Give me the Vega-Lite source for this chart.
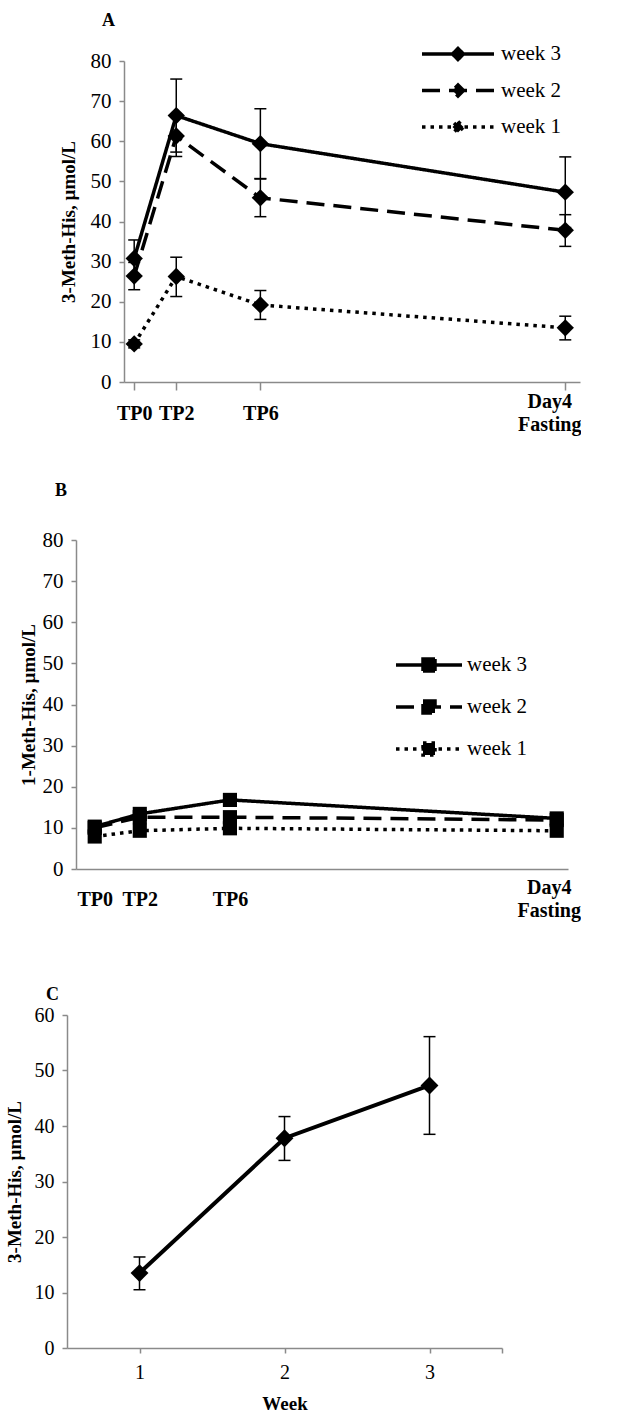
{
  "$schema": "https://vega.github.io/schema/vega-lite/v6.json",
  "padding": {"left": 5, "top": 12, "right": 0, "bottom": 0},
  "background": "white",
  "config": {
    "font": "Liberation Serif",
    "view": {"stroke": null},
    "axis": {
      "grid": false,
      "domainColor": "#8a8a8a",
      "tickColor": "#8a8a8a",
      "domainWidth": 1.5,
      "tickWidth": 1.5,
      "labelColor": "black",
      "titleColor": "black",
      "labelFont": "Liberation Serif",
      "titleFont": "Liberation Serif",
      "labelFontSize": 20,
      "titleFontSize": 19,
      "titleFontWeight": "bold",
      "labelFontWeight": "normal"
    },
    "legend": {"labelFont": "Liberation Serif", "labelFontSize": 21, "labelColor": "black"},
    "title": {"font": "Liberation Serif", "fontSize": 18, "fontWeight": "bold", "anchor": "start", "frame": "group", "color": "black"}
  },
  "datasets": {
    "a": [
      {"t": 0, "week": "week 3", "v": 30.8, "lo": 26.2, "hi": 35.4},
      {"t": 2, "week": "week 3", "v": 66.4, "lo": 57.3, "hi": 75.5},
      {"t": 6, "week": "week 3", "v": 59.4, "lo": 50.7, "hi": 68.1},
      {"t": 20.5, "week": "week 3", "v": 47.3, "lo": 38.5, "hi": 56.1},
      {"t": 0, "week": "week 2", "v": 26.4, "lo": 23.0, "hi": 29.8},
      {"t": 2, "week": "week 2", "v": 61.3, "lo": 56.2, "hi": 66.4},
      {"t": 6, "week": "week 2", "v": 45.9, "lo": 41.2, "hi": 50.6},
      {"t": 20.5, "week": "week 2", "v": 37.8, "lo": 33.8, "hi": 41.7},
      {"t": 0, "week": "week 1", "v": 9.5, "lo": 8.5, "hi": 10.5},
      {"t": 2, "week": "week 1", "v": 26.3, "lo": 21.3, "hi": 31.1},
      {"t": 6, "week": "week 1", "v": 19.2, "lo": 15.6, "hi": 22.8},
      {"t": 20.5, "week": "week 1", "v": 13.5, "lo": 10.5, "hi": 16.4}
    ],
    "b": [
      {"t": 0, "week": "week 3", "v": 10.3},
      {"t": 2, "week": "week 3", "v": 13.4},
      {"t": 6, "week": "week 3", "v": 16.8},
      {"t": 20.5, "week": "week 3", "v": 12.3},
      {"t": 0, "week": "week 2", "v": 10.0},
      {"t": 2, "week": "week 2", "v": 12.6},
      {"t": 6, "week": "week 2", "v": 12.6},
      {"t": 20.5, "week": "week 2", "v": 11.9},
      {"t": 0, "week": "week 1", "v": 7.9},
      {"t": 2, "week": "week 1", "v": 9.3},
      {"t": 6, "week": "week 1", "v": 9.9},
      {"t": 20.5, "week": "week 1", "v": 9.3}
    ],
    "c": [
      {"wk": 1, "v": 13.5, "lo": 10.5, "hi": 16.4},
      {"wk": 2, "v": 37.8, "lo": 33.8, "hi": 41.7},
      {"wk": 3, "v": 47.3, "lo": 38.5, "hi": 56.1}
    ]
  },
  "resolve": {"scale": {"strokeDash": "independent"}, "legend": {"strokeDash": "independent"}},
  "spacing": 65,
  "vconcat": [
    {
      "resolve": {"scale": {"strokeDash": "independent"}, "legend": {"strokeDash": "independent"}},
      "spacing": 47,
      "vconcat": [
        {
          "resolve": {"scale": {"strokeDash": "independent"}, "legend": {"strokeDash": "independent"}},
          "spacing": 0,
          "bounds": "flush",
          "hconcat": [
            {"width": 57, "height": 1, "data": {"values": [{"k": 0}]}, "mark": {"type": "point", "opacity": 0}, "encoding": {}},
            {
              "width": 456,
              "height": 321,
              "title": {"text": "A", "dx": -22, "offset": 12},
              "data": {"name": "a"},
              "encoding": {
                "x": {
                  "field": "t", "type": "quantitative",
                  "scale": {"domain": [-0.485, 21.2], "nice": false, "zero": false},
                  "axis": {
                    "title": null,
                    "values": [0, 2, 6, 20.5],
                    "labelExpr": "datum.value == 0 ? 'TP0' : datum.value == 2 ? 'TP2' : datum.value == 6 ? 'TP6' : ['Day4', 'Fasting']",
                    "labelFontWeight": "bold",
                    "labelBaseline": "middle",
                    "labelLineHeight": 23,
                    "tickSize": 8,
                    "labelPadding": {"condition": {"test": "datum.value > 15", "value": 11.5}, "value": 23},
                    "labelOffset": {"condition": {"test": "datum.value > 15", "value": -16}, "value": 0},
                    "labelFontSize": 20
                  }
                }
              },
              "layer": [
                {
                  "mark": {"type": "line", "color": "black", "strokeWidth": 3.5},
                  "encoding": {
                    "y": {
                      "field": "v", "type": "quantitative",
                      "scale": {"domain": [0, 80], "nice": false},
                      "axis": {"title": "3-Meth-His, µmol/L", "values": [0, 10, 20, 30, 40, 50, 60, 70, 80], "tickSize": 5, "labelPadding": 8, "titlePadding": 12, "labelFontSize": 21}
                    },
                    "strokeDash": {
                      "field": "week", "type": "nominal",
                      "scale": {"domain": ["week 3", "week 2", "week 1"], "range": [[1, 0], [18, 9], [3.5, 5]]},
                      "legend": {
                        "orient": "none", "legendX": 322, "legendY": -19, "title": null, "padding": 0,
                        "symbolType": "M-3.6,0H3.6M0,-0.55L0.55,0L0,0.55L-0.55,0Z",
                        "symbolSize": 400, "symbolStrokeWidth": 3.5, "symbolStrokeColor": "black", "symbolFillColor": "black",
                        "labelOffset": 31, "rowPadding": 10.5, "labelFontSize": 21
                      }
                    }
                  }
                },
                {
                  "mark": {"type": "rule", "color": "black", "strokeWidth": 1.5},
                  "encoding": {"y": {"field": "lo", "type": "quantitative"}, "y2": {"field": "hi"}}
                },
                {
                  "mark": {"type": "tick", "orient": "horizontal", "color": "black", "thickness": 1.5, "size": 12, "opacity": 1},
                  "encoding": {"y": {"field": "lo", "type": "quantitative"}}
                },
                {
                  "mark": {"type": "tick", "orient": "horizontal", "color": "black", "thickness": 1.5, "size": 12, "opacity": 1},
                  "encoding": {"y": {"field": "hi", "type": "quantitative"}}
                },
                {
                  "mark": {"type": "point", "shape": "diamond", "filled": true, "size": 300, "color": "black", "opacity": 1},
                  "encoding": {"y": {"field": "v", "type": "quantitative"}}
                }
              ]
            }
          ]
        },
        {
          "resolve": {"scale": {"strokeDash": "independent"}, "legend": {"strokeDash": "independent"}},
          "spacing": 0,
          "bounds": "flush",
          "hconcat": [
            {"width": 9, "height": 1, "data": {"values": [{"k": 0}]}, "mark": {"type": "point", "opacity": 0}, "encoding": {}},
            {
              "width": 492,
              "height": 329,
              "title": {"text": "B", "dx": -21, "offset": 29},
              "data": {"name": "b"},
              "encoding": {
                "x": {
                  "field": "t", "type": "quantitative",
                  "scale": {"domain": [-0.83, 21.0], "nice": false, "zero": false},
                  "axis": {
                    "title": null,
                    "values": [0, 2, 6, 20.5],
                    "labelExpr": "datum.value == 0 ? 'TP0' : datum.value == 2 ? 'TP2' : datum.value == 6 ? 'TP6' : ['Day4', 'Fasting']",
                    "labelFontWeight": "bold",
                    "labelBaseline": "middle",
                    "labelLineHeight": 23,
                    "ticks": false,
                    "labelPadding": {"condition": {"test": "datum.value > 15", "value": 18.5}, "value": 30},
                    "labelOffset": {"condition": {"test": "datum.value > 15", "value": -8}, "value": 0},
                    "labelFontSize": 20
                  }
                }
              },
              "layer": [
                {
                  "mark": {"type": "line", "color": "black", "strokeWidth": 3.5},
                  "encoding": {
                    "y": {
                      "field": "v", "type": "quantitative",
                      "scale": {"domain": [0, 80], "nice": false},
                      "axis": {"title": "1-Meth-His, µmol/L", "values": [0, 10, 20, 30, 40, 50, 60, 70, 80], "tickSize": 5, "labelPadding": 8, "titlePadding": 4, "labelFontSize": 21}
                    },
                    "strokeDash": {
                      "field": "week", "type": "nominal",
                      "scale": {"domain": ["week 3", "week 2", "week 1"], "range": [[1, 0], [18, 9], [3.5, 5]]},
                      "legend": {
                        "orient": "none", "legendX": 341, "legendY": 113, "title": null, "padding": 0,
                        "symbolType": "M-3.3,0H3.3M-0.6,-0.6H0.6V0.6H-0.6Z",
                        "symbolSize": 400, "symbolStrokeWidth": 3.5, "symbolStrokeColor": "black", "symbolFillColor": "black",
                        "labelOffset": 26, "rowPadding": 16, "labelFontSize": 21
                      }
                    }
                  }
                },
                {
                  "mark": {"type": "point", "shape": "square", "filled": true, "size": 200, "color": "black", "opacity": 1},
                  "encoding": {"y": {"field": "v", "type": "quantitative"}}
                }
              ]
            }
          ]
        }
      ]
    },
    {
      "width": 435,
      "height": 333,
      "title": {"text": "C", "dx": -21, "offset": 1},
      "data": {"name": "c"},
      "encoding": {
        "x": {
          "field": "wk", "type": "quantitative",
          "scale": {"domain": [0.5, 3.5], "nice": false, "zero": false},
          "axis": {
            "title": "Week",
            "values": [1, 2, 3, 3.5],
            "labelExpr": "datum.value == 3.5 ? '' : datum.label",
            "tickSize": 5,
            "labelPadding": 9,
            "titlePadding": 12,
            "titleFontSize": 19
          }
        }
      },
      "layer": [
        {
          "mark": {"type": "line", "color": "black", "strokeWidth": 4},
          "encoding": {
            "y": {
              "field": "v", "type": "quantitative",
              "scale": {"domain": [0, 60], "nice": false},
              "axis": {"title": "3-Meth-His, µmol/L", "values": [0, 10, 20, 30, 40, 50, 60], "tickSize": 5, "labelPadding": 8, "titlePadding": 10}
            }
          }
        },
        {
          "mark": {"type": "rule", "color": "black", "strokeWidth": 1.5},
          "encoding": {"y": {"field": "lo", "type": "quantitative"}, "y2": {"field": "hi"}}
        },
        {
          "mark": {"type": "tick", "orient": "horizontal", "color": "black", "thickness": 1.5, "size": 12, "opacity": 1},
          "encoding": {"y": {"field": "lo", "type": "quantitative"}}
        },
        {
          "mark": {"type": "tick", "orient": "horizontal", "color": "black", "thickness": 1.5, "size": 12, "opacity": 1},
          "encoding": {"y": {"field": "hi", "type": "quantitative"}}
        },
        {
          "mark": {"type": "point", "shape": "diamond", "filled": true, "size": 320, "color": "black", "opacity": 1},
          "encoding": {"y": {"field": "v", "type": "quantitative"}}
        }
      ]
    }
  ]
}
